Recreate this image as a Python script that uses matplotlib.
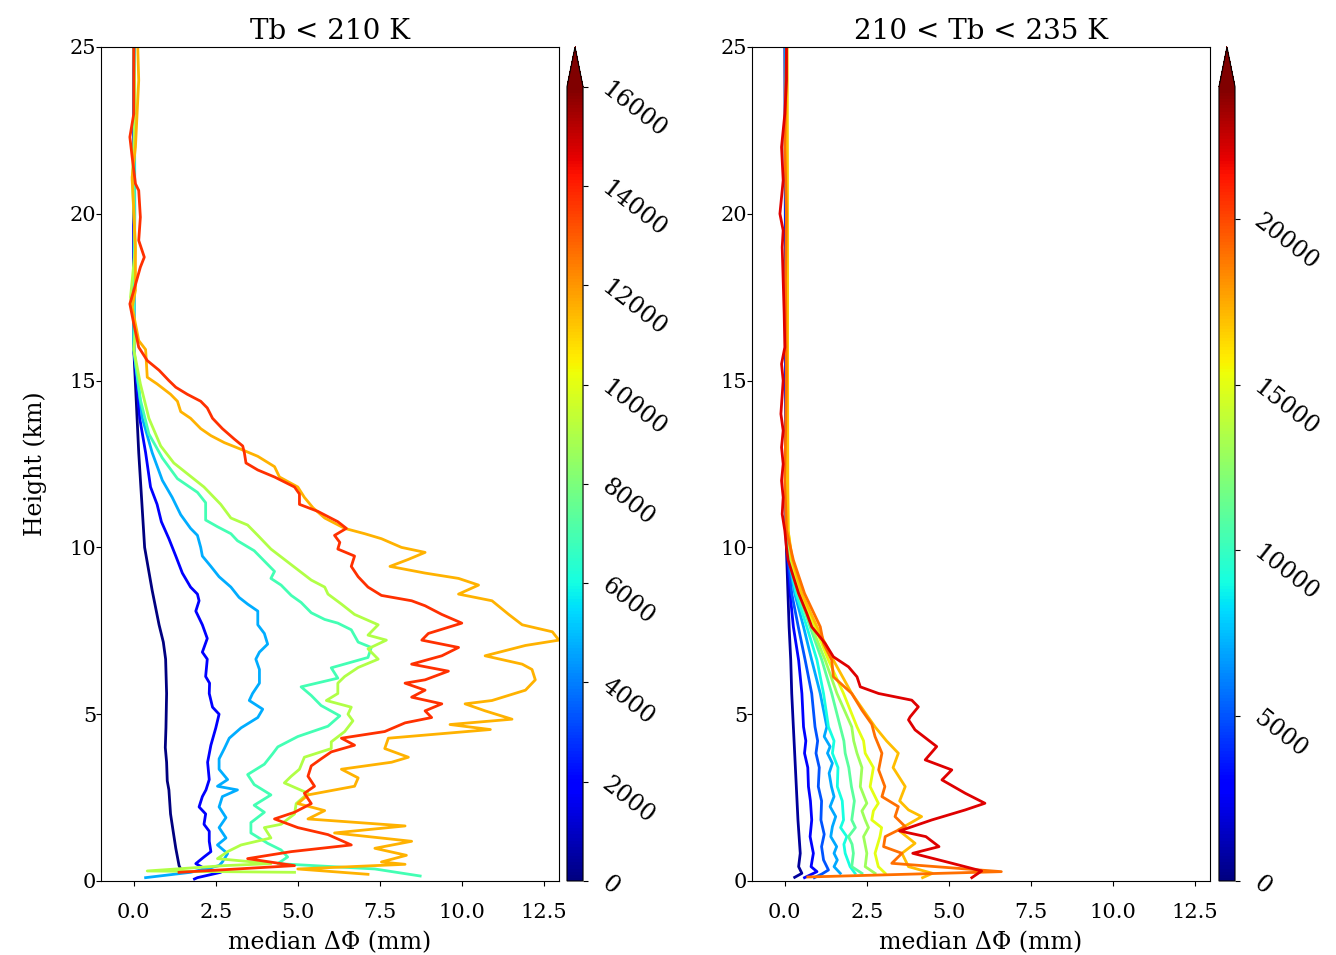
import matplotlib
matplotlib.use('Agg')
from matplotlib import pyplot as plt
from matplotlib import colors, cm
import numpy as np

plt.rcParams['font.family'] = 'DejaVu Serif'

# ---- left panel: Tb < 210 K ----
left_values = [0, 1900, 4700, 6900, 9000, 11500, 13700]

l1_h = [25, 20, 16, 15.93, 12.84, 10.0, 8.71, 7.68, 7.16, 6.65, 5.62, 4.59, 4.0, 3.56, 3.0, 2.73, 2.01, 1.49, 0.98, 0.46, 0.36]
l1_x = [0.0, 0.0, 0.0, 0.0, 0.15, 0.33, 0.56, 0.77, 0.90, 0.97, 1.0, 0.98, 0.96, 1.0, 1.02, 1.07, 1.12, 1.2, 1.28, 1.38, 1.43]

l2_h = [25, 20, 16, 15.93, 13.87, 12.84, 11.81, 11.29, 10.77, 10.26, 9.74, 9.23, 8.81, 8.6, 8.4, 8.09, 7.68, 7.27, 6.86,
        6.65, 6.13, 5.93, 5.62, 5.21, 5.0, 4.59, 4.07, 3.56, 3.04, 2.73, 2.53, 2.22, 2.01, 1.7, 1.49, 1.19, 0.88, 0.72,
        0.52, 0.41, 0.26, 0.1, 0.06]
l2_x = [0.0, 0.0, 0.0, 0.0, 0.18, 0.36, 0.51, 0.71, 0.84, 1.07, 1.28, 1.48, 1.73, 1.94, 1.99, 1.89, 2.09, 2.24, 2.09,
        2.24, 2.19, 2.31, 2.3, 2.4, 2.6, 2.5, 2.35, 2.25, 2.3, 2.2, 2.09, 1.99, 2.19, 2.14, 2.3, 2.3, 2.35, 2.14,
        1.89, 2.09, 2.65, 1.94, 1.85]

l3_h = [25, 20, 16, 15.93, 13.87, 12.84, 12.01, 11.5, 10.98, 10.57, 10.36, 10.0, 9.74, 9.43, 9.12, 8.81, 8.5, 8.3, 8.09,
        7.68, 7.42, 7.1, 6.86, 6.65, 6.34, 5.93, 5.62, 5.41, 5.15, 4.9, 4.59, 4.28, 3.97, 3.66, 3.35, 3.04, 2.84, 2.73,
        2.53, 2.22, 1.9, 1.6, 1.29, 1.08, 0.82, 0.57, 0.46, 0.26, 0.1]
l3_x = [0.02, 0.03, 0.0, 0.0, 0.26, 0.56, 0.87, 1.17, 1.43, 1.73, 1.94, 2.04, 2.09, 2.35, 2.6, 2.96, 3.21, 3.47, 3.78,
        3.78, 3.98, 4.08, 3.83, 3.72, 3.83, 3.83, 3.62, 3.52, 3.93, 3.78, 3.27, 2.91, 2.76, 2.6, 2.6, 2.86, 2.55, 3.16,
        2.7, 2.6, 2.81, 2.6, 2.81, 2.55, 2.86, 2.7, 2.6, 1.73, 0.36]

l4_h = [25, 20, 16, 15.93, 14.43, 13.4, 12.68, 12.06, 11.65, 11.34, 10.82, 10.62, 10.41, 10.2, 9.9, 9.59, 9.28, 9.07, 8.87,
        8.56, 8.35, 8.04, 7.84, 7.73, 7.53, 7.16, 7.0, 6.7, 6.39, 6.08, 5.82, 5.56, 5.26, 4.95, 4.64, 4.33, 4.02, 3.81,
        3.5, 3.19, 2.89, 2.58, 2.27, 2.06, 1.75, 1.44, 1.13, 0.93, 0.72, 0.52, 0.36, 0.15]
l4_x = [0.0, 0.02, 0.0, 0.0, 0.2, 0.46, 0.87, 1.33, 1.94, 2.19, 2.19, 2.55, 2.96, 3.16, 3.67, 3.98, 4.29, 4.18, 4.49,
        4.8, 5.1, 5.41, 5.82, 6.22, 6.63, 6.84, 7.24, 7.14, 6.02, 6.22, 5.1, 5.41, 5.71, 6.28, 5.92, 5.0, 4.39, 4.23,
        3.98, 3.47, 3.67, 4.18, 3.67, 3.98, 3.57, 3.57, 4.08, 4.49, 4.69, 4.39, 7.35, 8.73]

l5_h = [25, 23, 21, 19, 17.5, 16.5, 15.93, 14.9, 13.87, 13.04, 12.53, 11.81, 11.29, 10.88, 10.67, 10.36, 9.95, 9.64, 9.33,
        9.02, 8.81, 8.6, 8.3, 7.99, 7.68, 7.37, 7.22, 6.96, 6.65, 6.4, 6.13, 5.93, 5.62, 5.41, 5.21, 5.0, 4.8, 4.48,
        4.17, 3.97, 3.71, 3.35, 3.14, 2.94, 2.63, 2.32, 2.01, 1.7, 1.6, 1.29, 1.08, 0.88, 0.67, 0.52, 0.46, 0.3, 0.26]
l5_x = [0.0, 0.05, -0.05, 0.05, -0.1, 0.05, 0.0, 0.2, 0.46, 0.82, 1.22, 2.14, 2.65, 2.96, 3.47, 3.78, 4.18, 4.59, 5.0,
        5.41, 5.82, 5.92, 6.33, 6.73, 7.45, 7.14, 7.7, 7.14, 7.45, 6.84, 6.43, 6.22, 6.22, 5.87, 6.63, 6.53, 6.68, 6.43,
        6.02, 6.02, 5.2, 5.05, 4.8, 4.59, 5.31, 4.95, 4.9, 4.49, 3.98, 4.18, 3.27, 2.86, 2.55, 4.18, 2.76, 0.41, 4.9]

l6_h = [25, 24, 23, 22, 21.1, 20.1, 18.9, 17.7, 17.2, 16.2, 15.93, 15.1, 14.9, 14.59, 14.38, 14.07, 13.87, 13.56, 13.35,
        13.14, 12.94, 12.73, 12.42, 12.11, 11.81, 11.5, 11.19, 10.88, 10.57, 10.41, 10.26, 10.0, 9.85, 9.64, 9.43, 9.23,
        9.07, 8.87, 8.6, 8.4, 7.99, 7.68, 7.47, 7.22, 7.06, 6.75, 6.5, 6.34, 6.03, 5.72, 5.41, 5.31, 5.1, 4.85, 4.69,
        4.54, 4.28, 3.97, 3.71, 3.56, 3.35, 3.09, 2.84, 2.58, 2.32, 2.11, 1.86, 1.65, 1.44, 1.19, 0.98, 0.77, 0.57,
        0.5, 0.36, 0.2]
l6_x = [0.12, 0.15, 0.1, 0.05, -0.05, 0.0, 0.05, 0.05, -0.05, 0.15, 0.36, 0.41, 0.71, 1.12, 1.33, 1.43, 1.73, 2.04, 2.35,
        2.76, 3.27, 3.78, 4.29, 4.44, 5.0, 5.2, 5.46, 5.82, 6.43, 7.04, 7.55, 8.16, 8.88, 8.37, 7.81, 8.88,
        9.9, 10.51, 9.9, 10.92, 11.43, 11.84, 12.76, 12.96, 11.94, 10.71, 11.84, 12.14, 12.24, 11.94, 10.92, 10.1, 10.71,
        11.53, 9.64, 10.87, 7.76, 7.65, 8.37, 7.86, 6.33, 6.84, 6.73, 5.31, 5.0, 5.82, 5.31, 8.27, 6.12, 8.47, 7.35,
        8.31, 7.55, 8.27, 5.0, 7.14]

l7_h = [25, 23, 22.3, 21.7, 20.9, 20.7, 19.9, 19.2, 18.7, 18.4, 17.7, 17.3, 16.7, 16.0, 15.6, 15.31, 15.0, 14.8, 14.59,
        14.38, 14.18, 13.87, 13.56, 13.25, 13.04, 12.84, 12.53, 12.32, 12.11, 11.81, 11.6, 11.29, 11.08, 10.77, 10.57,
        10.36, 10.15, 9.95, 9.74, 9.43, 9.12, 8.81, 8.56, 8.4, 8.25, 7.99, 7.73, 7.42, 7.22, 7.0, 6.75, 6.5, 6.29,
        6.03, 5.93, 5.72, 5.51, 5.31, 5.1, 4.9, 4.74, 4.48, 4.28, 4.07, 3.87, 3.66, 3.45, 3.14, 2.84, 2.63, 2.32, 2.06,
        1.86, 1.6, 1.39, 1.08, 0.88, 0.67, 0.46, 0.26]
l7_x = [0.0, 0.0, -0.12, -0.05, 0.05, 0.15, 0.2, 0.15, 0.32, 0.2, 0.0, -0.12, 0.0, 0.15, 0.41, 0.77, 1.07, 1.28, 1.63,
        2.04, 2.24, 2.4, 2.7, 3.06, 3.32, 3.37, 3.42, 3.78, 4.29, 4.9, 5.05, 5.05, 5.61, 6.22, 6.48,
        6.12, 6.28, 6.22, 6.73, 6.63, 6.84, 7.14, 7.55, 8.47, 8.88, 9.39, 10.0, 8.98, 8.78, 9.9, 9.39, 8.47, 9.59,
        8.88, 8.27, 8.88, 8.47, 9.39, 8.88, 9.08, 8.27, 7.65, 6.33, 6.73, 6.02, 5.71, 5.41, 5.31, 5.51, 5.2, 5.41, 4.9,
        4.29, 5.0, 5.92, 6.63, 4.8, 3.47, 4.9, 1.38]

left_h = [l1_h, l2_h, l3_h, l4_h, l5_h, l6_h, l7_h]
left_x = [l1_x, l2_x, l3_x, l4_x, l5_x, l6_x, l7_x]

# ---- right panel: 210 < Tb < 235 K ----
right_values = [600, 3000, 5000, 7000, 9000, 11000, 13000, 15000, 17000, 19000, 22000]

r1_h = [25, 18, 12, 10.5, 9.62, 7.62, 6.62, 5.62, 4.62, 3.83, 2.83, 1.83, 0.83, 0.43, 0.23, 0.11]
r1_x = [0.0, 0.02, 0.03, 0.03, 0.06, 0.13, 0.18, 0.21, 0.26, 0.3, 0.35, 0.4, 0.47, 0.42, 0.52, 0.3]

r2_h = [25, 18, 12, 10.5, 9.62, 8.62, 7.62, 6.62, 5.62, 4.62, 4.2, 3.83, 3.4, 2.83, 2.4, 1.83, 1.33, 0.83, 0.43, 0.28,
        0.18, 0.1]
r2_x = [0.02, 0.03, 0.04, 0.05, 0.09, 0.16, 0.26, 0.42, 0.52, 0.57, 0.64, 0.6, 0.7, 0.72, 0.78, 0.82, 0.77, 0.87, 0.8,
        0.98, 0.77, 0.6]

r3_h = [25, 18, 12, 10.5, 9.62, 8.62, 7.62, 6.62, 5.62, 4.62, 4.2, 3.83, 3.4, 2.83, 2.4, 1.83, 1.4, 1.03, 0.63, 0.33,
        0.21, 0.1]
r3_x = [0.03, 0.04, 0.05, 0.06, 0.11, 0.21, 0.41, 0.62, 0.82, 0.92, 1.0, 0.95, 1.05, 1.02, 1.12, 1.1, 1.2, 1.12, 1.18,
        1.33, 1.13, 0.9]

r4_h = [25, 18, 12, 10.5, 9.62, 8.62, 7.62, 6.62, 5.62, 4.62, 4.33, 4.03, 3.83, 3.53, 3.23, 2.83, 2.53, 2.23, 1.93,
        1.63, 1.33, 1.03, 0.83, 0.63, 0.43, 0.23]
r4_x = [0.03, 0.05, 0.06, 0.07, 0.13, 0.3, 0.57, 0.82, 1.08, 1.28, 1.2, 1.38, 1.3, 1.45, 1.35, 1.42, 1.5, 1.38, 1.55,
        1.45, 1.4, 1.58, 1.5, 1.6, 1.5, 1.69]

r5_h = [25, 18, 12, 10.5, 9.62, 8.62, 7.62, 6.62, 5.62, 4.62, 4.2, 3.83, 3.4, 2.83, 2.4, 1.83, 1.6, 1.33, 1.1, 0.83,
        0.43, 0.23]
r5_x = [0.04, 0.05, 0.06, 0.07, 0.14, 0.34, 0.67, 0.98, 1.18, 1.33, 1.5, 1.45, 1.62, 1.6, 1.75, 1.79, 1.7, 1.89, 1.8,
        1.84, 1.99, 2.14]

r6_h = [25, 18, 12, 10.5, 9.62, 8.62, 7.62, 6.62, 5.62, 4.62, 4.2, 3.83, 3.4, 2.83, 2.4, 1.83, 1.6, 1.33, 1.1, 0.83,
        0.43, 0.23]
r6_x = [0.05, 0.06, 0.07, 0.08, 0.16, 0.4, 0.77, 1.13, 1.43, 1.69, 1.8, 1.84, 1.95, 2.03, 2.12, 2.04, 2.15, 1.94, 2.05,
        2.09, 2.04, 2.35]

r7_h = [25, 18, 12, 10.5, 9.62, 8.62, 7.62, 6.62, 5.62, 4.62, 4.2, 3.83, 3.4, 2.83, 2.33, 2.1, 1.83, 1.6, 1.33, 0.83,
        0.43, 0.23]
r7_x = [0.05, 0.07, 0.08, 0.09, 0.19, 0.44, 0.82, 1.23, 1.59, 2.04, 2.1, 2.2, 2.35, 2.3, 2.5, 2.35, 2.45, 2.55, 2.4,
        2.5, 2.45, 2.75]

r8_h = [25, 18, 12, 10.5, 9.62, 8.62, 7.62, 6.62, 5.62, 4.62, 4.2, 3.83, 3.4, 2.83, 2.33, 2.1, 1.83, 1.6, 1.33, 0.83,
        0.43, 0.23]
r8_x = [0.06, 0.08, 0.08, 0.1, 0.21, 0.47, 0.92, 1.33, 1.79, 2.2, 2.4, 2.45, 2.7, 2.6, 2.85, 2.7, 2.65, 2.95, 2.9,
        2.75, 2.85, 3.06]

r9_h = [25, 18, 12, 10.5, 9.62, 8.62, 7.62, 6.62, 5.62, 4.62, 4.2, 3.83, 3.4, 2.83, 2.4, 2.13, 1.93, 1.53, 1.13, 0.83,
        0.43, 0.23, 0.1]
r9_x = [0.07, 0.08, 0.09, 0.1, 0.23, 0.52, 0.98, 1.48, 2.04, 2.75, 3.1, 3.46, 3.3, 3.67, 3.5, 3.77, 4.17, 3.46, 3.97,
        3.57, 3.77, 4.5, 4.2]

r10_h = [25, 22, 20, 18, 15, 12, 10.5, 9.62, 8.62, 7.62, 7.12, 6.62, 6.12, 5.62, 5.12, 4.7, 4.33, 3.83, 3.33, 2.83, 2.53,
         2.23, 1.93, 1.63, 1.33, 1.03, 0.83, 0.53, 0.28, 0.12]
r10_x = [0.05, 0.0, 0.05, 0.02, 0.05, 0.0, 0.05, 0.26, 0.6, 1.08, 1.18, 1.43, 1.48, 2.04, 2.35, 2.65, 2.75, 2.96, 2.86,
         3.05, 2.96, 3.46, 3.36, 3.67, 3.06, 3.01, 3.57, 3.26, 6.6, 0.7]

r11_h = [25, 24, 23, 22, 21, 20, 19.5, 19, 18, 17, 16, 15.5, 15, 14, 13.5, 13, 12.5, 12, 11.5, 11, 10.5, 10, 9.62, 8.62,
         8.02, 7.62, 7.12, 6.72, 6.42, 6.12, 5.82, 5.62, 5.42, 5.22, 4.92, 4.83, 4.53, 4.03, 3.63, 3.33, 3.03, 2.63,
         2.33, 2.13, 1.83, 1.5, 1.33, 1.03, 0.83, 0.53, 0.3, 0.1]
r11_x = [0.05, 0.05, 0.0, -0.1, -0.05, -0.15, -0.05, -0.08, -0.05, -0.02, 0.0, -0.1, -0.05, -0.12, -0.05, -0.1, -0.05,
         -0.1, -0.05, -0.08, 0.0, 0.05, 0.1, 0.42, 0.67, 0.82, 1.23, 1.48, 1.94, 2.2, 2.3, 2.86, 3.87, 4.07, 3.82, 3.77,
         3.97, 4.63, 4.28, 5.09, 4.79, 5.5, 6.1, 5.5, 4.48, 3.5, 4.3, 4.7, 3.9, 5.1, 6.0, 5.7]

right_h = [r1_h, r2_h, r3_h, r4_h, r5_h, r6_h, r7_h, r8_h, r9_h, r10_h, r11_h]
right_x = [r1_x, r2_x, r3_x, r4_x, r5_x, r6_x, r7_x, r8_x, r9_x, r10_x, r11_x]

fig = plt.figure(figsize=(13.36, 9.55), dpi=100)

panels = [
    ('Tb < 210 K', left_h, left_x, left_values, 16000, np.arange(0, 16001, 2000), 0.0756, 0.4244),
    ('210 < Tb < 235 K', right_h, right_x, right_values, 24000, np.arange(0, 20001, 5000), 0.5629, 0.9124),
]

for i, (title, hs, xs, vals, vmax, cticks, axl, cbl) in enumerate(panels):
    ax = fig.add_axes([axl, 0.0775, 0.3425, 0.8733])
    cax = fig.add_axes([cbl, 0.0775, 0.012, 0.8733])
    norm = colors.Normalize(vmin=0, vmax=vmax)
    cmap = plt.get_cmap('jet')
    for h, x, v in zip(hs, xs, vals):
        ax.plot(x, h, color=cmap(norm(v)), lw=2)
    ax.set_xlim(-1, 12.95)
    ax.set_ylim(0, 25)
    ax.set_xticks([0, 2.5, 5, 7.5, 10, 12.5])
    ax.set_yticks([0, 5, 10, 15, 20, 25])
    ax.tick_params(labelsize=15)
    ax.tick_params(axis='x', pad=12)
    ax.tick_params(axis='y', pad=0)
    ax.set_title(title, fontsize=20)
    ax.set_xlabel('median ΔΦ (mm)', fontsize=17, labelpad=7)
    if i == 0:
        ax.set_ylabel('Height (km)', fontsize=17, labelpad=16)
    sm = cm.ScalarMappable(norm=norm, cmap=cmap)
    cb = fig.colorbar(sm, cax=cax, extend='max', ticks=cticks)
    cb.ax.tick_params(pad=12)
    for lab in cb.ax.get_yticklabels():
        lab.set_rotation(-38)
        lab.set_rotation_mode('anchor')
        lab.set_ha('left')
        lab.set_va('center')
        lab.set_fontsize(17)

plt.savefig('out.png', dpi=100)
